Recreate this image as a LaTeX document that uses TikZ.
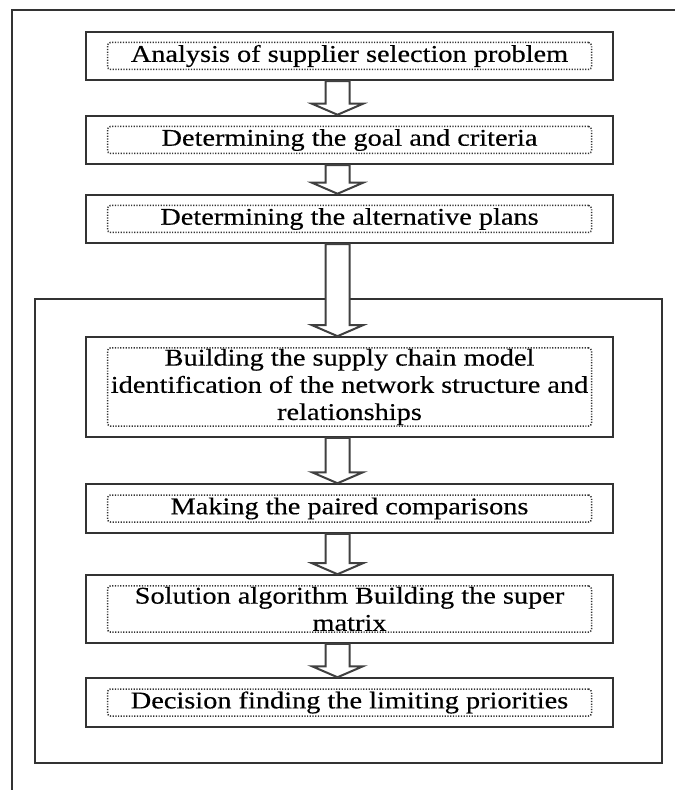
\documentclass[tikz,border=0pt]{standalone}
\usepackage{fontspec}
\setmainfont{Liberation Serif}[FakeStretch=1.18,FakeBold=0.4]
\usetikzlibrary{calc,fit}

% hollow block arrow from the bottom of one box to the top of the next
\newcommand{\flowarrow}[2]{%
  \draw[hollow] ($(#1.south)+(-12pt,0)$) -- ($(#2.north)+(-12pt,5.5pt)$)
    -- ($(#2.north)+(-18.75pt,5.5pt)$) -- ($(#2.north)+(-6pt,0)$)
    -- ($(#2.north)+(6.75pt,5.5pt)$) -- ($(#2.north)+(0pt,5.5pt)$)
    -- ($(#1.south)+(0pt,0)$) -- cycle;}

\begin{document}
\begin{tikzpicture}[x=0.5pt,y=-0.5pt,font=\fontsize{12pt}{13.6pt}\selectfont,
  stepin/.style={draw=black!80,dash pattern=on 0.6pt off 0.75pt,line width=0.75pt,
    rounded corners=1.5pt,align=center,minimum width=242pt,minimum height=13.5pt,
    inner sep=0.5pt},
  stepout/.style={draw=black!80,line width=1pt,inner xsep=10.5pt,inner ysep=5pt},
  hollow/.style={draw=black!75,line width=1pt,fill=white,line join=miter}]

\useasboundingbox (0,0) rectangle (675,790);

% page frame
\draw [line width=1.2pt,black!80] (12,790) -- (12,10) -- (675,10);

% upper steps
\node[stepin] (s1) at (349.5,56) {Analysis of supplier selection problem};
\node[stepout,fit=(s1)] (b1) {};
\node[stepin] (s2) at (349.5,140) {Determining the goal and criteria};
\node[stepout,fit=(s2)] (b2) {};
\node[stepin] (s3) at (349.5,219) {Determining the alternative plans};
\node[stepout,fit=(s3)] (b3) {};

% network part
\draw [line width=1pt,black!80] (35,299) rectangle (662,763);

\node[stepin] (s4) at (349.5,387) {Building the supply chain model\\identification of the network structure and\\relationships};
\node[stepout,fit=(s4)] (b4) {};
\node[stepin] (s5) at (349.5,508.5) {Making the paired comparisons};
\node[stepout,fit=(s5)] (b5) {};
\node[stepin] (s6) at (349.5,609) {Solution algorithm Building the super\\matrix};
\node[stepout,fit=(s6)] (b6) {};
\node[stepin] (s7) at (349.5,702.5) {Decision finding the limiting priorities};
\node[stepout,fit=(s7)] (b7) {};

\flowarrow{b1}{b2}
\flowarrow{b2}{b3}
\flowarrow{b3}{b4}
\flowarrow{b4}{b5}
\flowarrow{b5}{b6}
\flowarrow{b6}{b7}

\end{tikzpicture}
\end{document}
